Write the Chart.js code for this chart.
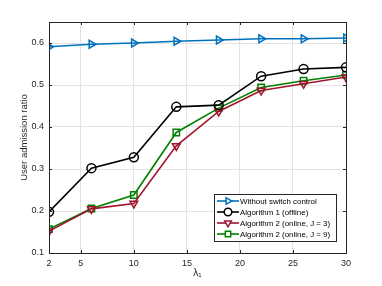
<!DOCTYPE html>
<html>
<head>
<meta charset="utf-8">
<script src="https://cdn.jsdelivr.net/npm/chart.js@4"></script>
<style>
  html, body { margin: 0; padding: 0; background: #fff; }
  #wrap { width: 382px; height: 286px; }
</style>
</head>
<body>
<div id="wrap"><canvas id="c" width="382" height="286"></canvas></div>
<script>
// ---- Data ----
const lambdas = [2, 6, 10, 14, 18, 22, 26, 30];
const xTicks = [2, 5, 10, 15, 20, 25, 30];
const yTicks = [0.1, 0.2, 0.3, 0.4, 0.5, 0.6];

const noSwitch = [0.591, 0.597, 0.600, 0.604, 0.607, 0.610, 0.610, 0.612];
const alg1     = [0.198, 0.302, 0.328, 0.448, 0.452, 0.521, 0.538, 0.542];
const alg2J3   = [0.152, 0.205, 0.218, 0.355, 0.437, 0.487, 0.503, 0.519];
const alg2J9   = [0.157, 0.206, 0.238, 0.387, 0.445, 0.494, 0.510, 0.524];

const seriesNames = [
  'Without switch control',
  'Algorithm 1 (offline)',
  'Algorithm 2 (online, J = 3)',
  'Algorithm 2 (online, J = 9)'
];

const FONT = "'Liberation Sans', Arial, Helvetica, sans-serif";

function series(label, vals, color, style, rot) {
  return {
    label,
    data: vals.map((v, i) => ({ x: lambdas[i], y: v })),
    borderColor: color,
    backgroundColor: 'rgba(0,0,0,0)',
    borderWidth: 1.6,
    pointStyle: style,
    pointRotation: rot,
    pointRadius: 4.5,
    pointBorderWidth: 1.5,
    pointBackgroundColor: 'rgba(0,0,0,0)',
    pointBorderColor: color,
    tension: 0,
    fill: false
  };
}

const datasets = [
  series(seriesNames[0], noSwitch, '#0072BD', 'triangle', 90),
  series(seriesNames[1], alg1, '#000000', 'circle', 0),
  series(seriesNames[2], alg2J3, '#A2142F', 'triangle', 180),
  series(seriesNames[3], alg2J9, '#008000', 'rect', 0)
];

// ---- Box + MATLAB style legend ----
const boxAndLegend = {
  id: 'boxAndLegend',
  afterDatasetsDraw(chart) {
    const { ctx, chartArea: a } = chart;
    ctx.save();
    ctx.strokeStyle = '#262626';
    ctx.lineWidth = 1;
    ctx.strokeRect(a.left + 0.5, a.top + 0.5, a.right - a.left, a.bottom - a.top);

    // small inward tick marks
    const xs = chart.scales.x, ys = chart.scales.y;
    ctx.beginPath();
    xTicks.forEach(t => {
      const px = Math.round(xs.getPixelForValue(t)) + 0.5;
      ctx.moveTo(px, a.bottom); ctx.lineTo(px, a.bottom - 3);
      ctx.moveTo(px, a.top); ctx.lineTo(px, a.top + 3);
    });
    yTicks.forEach(t => {
      const py = Math.round(ys.getPixelForValue(t)) + 0.5;
      ctx.moveTo(a.left, py); ctx.lineTo(a.left + 3, py);
      ctx.moveTo(a.right, py); ctx.lineTo(a.right - 3, py);
    });
    ctx.stroke();

    // legend
    const lx = 214, ly = 194, lw = 122, lh = 47;
    ctx.fillStyle = '#fff';
    ctx.fillRect(lx, ly, lw, lh);
    ctx.strokeStyle = '#262626';
    ctx.strokeRect(lx + 0.5, ly + 0.5, lw, lh);
    ctx.font = '7.9px ' + FONT;
    ctx.textBaseline = 'middle';
    chart.data.datasets.forEach((ds, i) => {
      const y = ly + 7 + i * 11;
      ctx.strokeStyle = ds.borderColor;
      ctx.lineWidth = 1.6;
      ctx.beginPath();
      ctx.moveTo(lx + 3, y); ctx.lineTo(lx + 25, y);
      ctx.stroke();
      ctx.lineWidth = 1.5;
      ctx.fillStyle = '#fff';
      Chart.helpers.drawPoint(ctx, {
        pointStyle: ds.pointStyle,
        rotation: ds.pointRotation,
        radius: 3.8,
        borderWidth: 1.5
      }, lx + 14, y);
      ctx.fillStyle = '#000';
      ctx.fillText(ds.label, lx + 26, y + 0.5);
    });
    ctx.restore();
  }
};

new Chart(document.getElementById('c'), {
  type: 'line',
  data: { datasets },
  options: {
    responsive: false,
    animation: false,
    layout: { padding: { left: 19, right: 36, top: 22, bottom: 7 } },
    plugins: { legend: { display: false }, tooltip: { enabled: false } },
    scales: {
      x: {
        type: 'linear',
        min: 2, max: 30,
        afterBuildTicks: s => { s.ticks = xTicks.map(v => ({ value: v })); },
        afterFit: s => { s.height = 26; },
        grid: { color: '#e3e3e3', drawTicks: false },
        border: { display: false },
        ticks: { color: '#262626', font: { family: FONT, size: 9 }, padding: 5, maxRotation: 0 },
        title: { display: true, text: 'λ\u2081', color: '#262626', font: { family: FONT, size: 10 }, padding: { top: 0, bottom: 0 } }
      },
      y: {
        min: 0.1, max: 0.65,
        afterBuildTicks: s => { s.ticks = yTicks.map(v => ({ value: v })); },
        afterFit: s => { s.width = 30; },
        grid: { color: '#e3e3e3', drawTicks: false },
        border: { display: false },
        ticks: {
          color: '#262626', font: { family: FONT, size: 9 }, padding: 5,
          callback: v => v.toFixed(1)
        },
        title: { display: true, text: 'User admission ratio', color: '#262626', font: { family: FONT, size: 9.5 }, padding: { top: 0, bottom: 0 } }
      }
    }
  },
  plugins: [boxAndLegend]
});
</script>
</body>
</html>
